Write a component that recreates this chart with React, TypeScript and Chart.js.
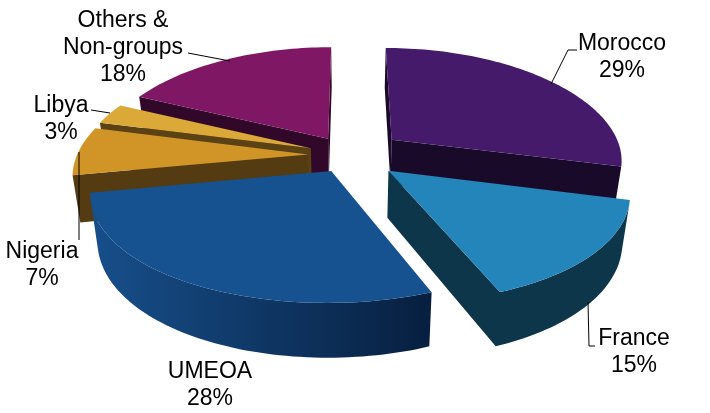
import { useEffect, useRef } from 'react';
import { Chart, registerables } from 'chart.js';

Chart.register(...registerables);

const categories = ['Morocco', 'France', 'UMEOA', 'Nigeria', 'Libya', 'Others & Non-groups'];
const shares = [29, 15, 28, 7, 3, 18];

const topColors = ['#461A6B', '#2485BA', '#16528F', '#D09526', '#DBA937', '#7F1765'];
const wallLeft = ['#1A0A2A', '#0E364A', '#174F8B', '#543B12', '#5A4214', '#31082A'];
const wallRight = ['#1A0A2A', '#0E364A', '#071F3F', '#543B12', '#5A4214', '#31082A'];
const explode = [54, 50, 38, 42, 42, 42];

// far slices first so the near ones paint over them
const drawOrder = [0, 5, 4, 3, 1, 2];

// text lines and leader lines for each slice
const labelLines = [['Morocco'], ['France'], ['UMEOA'], ['Nigeria'], ['Libya'], ['Others &', 'Non-groups']];
const labelX = [622, 634, 210, 42, 61, 123];
const labelY = [50, 345, 378, 258, 112, 27];
const leaders = [
  [[577, 50], [568, 50], [551, 84]],
  [[595, 346], [589, 346], [588, 302]],
  [],
  [[79, 240], [79, 152]],
  [[91, 110], [110, 113]],
  [[188, 53], [230, 61]],
];

// fake 3D camera fitted to the picture
const CX = 350;
const CY = 155;
const RADIUS = 231;
const TILT = 0.47;
const PERSP_X = 1360;
const PERSP_Y = 1650;
const DEPTH = 46;

function project(u: number, v: number) {
  const w = 1 - v / PERSP_Y;
  return { x: CX + u / (1 - v / PERSP_X), y: CY + (TILT * v) / w, d: DEPTH / w };
}

function bottomOf(p: { x: number; y: number; d: number }) {
  return { x: p.x - (p.x - CX) * 0.028, y: p.y + p.d };
}

const pie3d = {
  id: 'pie3d',
  // the arcs stay in the chart for their angles, they are painted here in perspective
  beforeDatasetsDraw(chart: any) {
    const ctx = chart.ctx;
    const arcs = chart.getDatasetMeta(0).data;

    drawOrder.forEach((i) => {
      const arc = arcs[i];
      const mid = (arc.startAngle + arc.endAngle) / 2;
      const ox = Math.cos(mid) * arc.options.offset;
      const oy = Math.sin(mid) * arc.options.offset;

      const pts = [project(ox, oy)];
      const steps = Math.max(6, Math.round((arc.endAngle - arc.startAngle) * 40));
      for (let s = 0; s <= steps; s++) {
        const a = arc.startAngle + ((arc.endAngle - arc.startAngle) * s) / steps;
        pts.push(project(ox + Math.cos(a) * RADIUS, oy + Math.sin(a) * RADIUS));
      }

      const xs = pts.map((p) => p.x);
      const grad = ctx.createLinearGradient(Math.min(...xs), 0, Math.max(...xs), 0);
      grad.addColorStop(0, wallLeft[i]);
      grad.addColorStop(1, wallRight[i]);
      ctx.fillStyle = grad;

      const isFront = (k: number) => {
        const p = pts[k];
        const q = pts[(k + 1) % pts.length];
        const quad = [p, q, bottomOf(q), bottomOf(p)];
        let area = 0;
        quad.forEach((a, n) => {
          const b = quad[(n + 1) % 4];
          area += a.x * b.y - b.x * a.y;
        });
        return area < 0;
      };

      // walls turned to the viewer, runs of sides filled as one shape so no seams show
      const paintRun = (run: number[]) => {
        const top = [pts[run[0]], ...run.map((k) => pts[(k + 1) % pts.length])];
        const outline = [...top, ...top.map(bottomOf).reverse()];
        ctx.beginPath();
        outline.forEach((a, n) => (n ? ctx.lineTo(a.x, a.y) : ctx.moveTo(a.x, a.y)));
        ctx.closePath();
        ctx.fill();
      };
      let run: number[] = [];
      pts.forEach((_, k) => {
        if (isFront(k)) {
          run.push(k);
        } else if (run.length) {
          paintRun(run);
          run = [];
        }
      });
      if (run.length) paintRun(run);

      ctx.beginPath();
      pts.forEach((a, n) => (n ? ctx.lineTo(a.x, a.y) : ctx.moveTo(a.x, a.y)));
      ctx.closePath();
      ctx.fillStyle = topColors[i];
      ctx.fill();
    });
    return false;
  },
  afterDraw(chart: any) {
    const ctx = chart.ctx;
    ctx.strokeStyle = '#000';
    ctx.lineWidth = 1;
    leaders.forEach((line) => {
      if (!line.length) return;
      ctx.beginPath();
      line.forEach(([x, y], n) => (n ? ctx.lineTo(x, y) : ctx.moveTo(x, y)));
      ctx.stroke();
    });

    ctx.fillStyle = '#000';
    ctx.font = '23px "Liberation Sans"';
    ctx.textAlign = 'center';
    ctx.textBaseline = 'alphabetic';
    categories.forEach((_, i) => {
      const lines = [...labelLines[i], shares[i] + '%'];
      lines.forEach((t, n) => ctx.fillText(t, labelX[i], labelY[i] + n * 27));
    });
  },
};

export default function App() {
  const canvasRef = useRef<HTMLCanvasElement>(null);

  useEffect(() => {
    if (!canvasRef.current) return;
    const chart = new Chart(canvasRef.current, {
      type: 'pie',
      data: {
        labels: categories,
        datasets: [
          {
            data: shares,
            backgroundColor: topColors,
            offset: explode,
            borderWidth: 0,
          },
        ],
      },
      options: {
        responsive: false,
        animation: false,
        devicePixelRatio: 1,
        plugins: {
          legend: { display: false },
          tooltip: { enabled: false },
        },
      },
      plugins: [pie3d],
    } as any);

    return () => chart.destroy();
  }, []);

  return (
    <div style={{ width: 710, height: 413, background: '#fff' }}>
      <style>{'body{margin:0}'}</style>
      <canvas ref={canvasRef} width={710} height={413} style={{ display: 'block' }} />
    </div>
  );
}
